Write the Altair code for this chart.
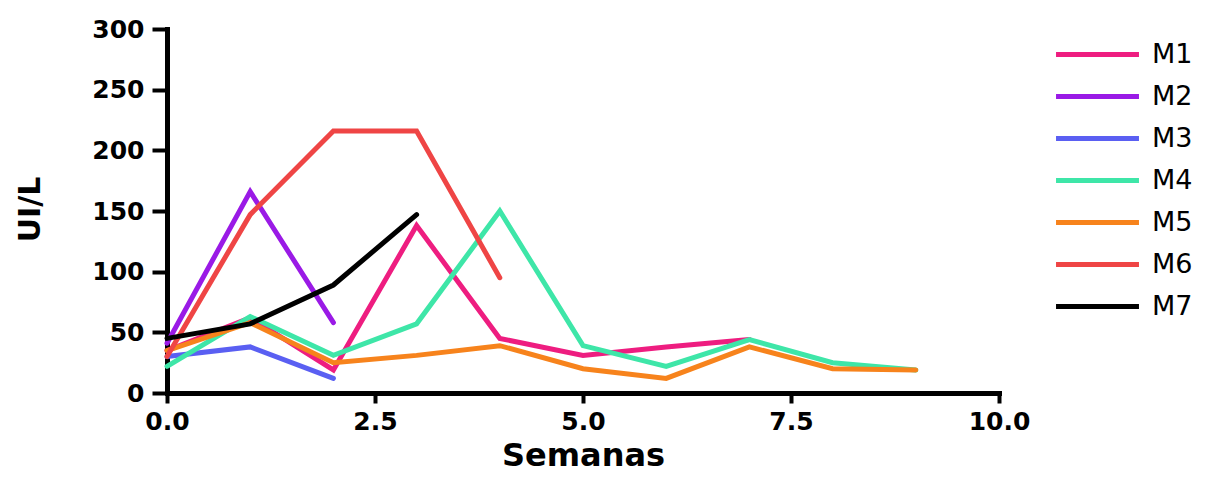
import altair as alt
import pandas as pd

series = ["M1", "M2", "M3", "M4", "M5", "M6", "M7"]
colors = ["#EE1D80", "#9A1AE6", "#5A5FF2", "#3EE6A8", "#F7831C", "#EF4545", "#000000"]

weeks_m1 = [0, 1, 2, 3, 4, 5, 6, 7]
vals_m1 = [35, 62, 19, 138, 45, 31, 38, 44]
weeks_m2 = [0, 1, 2]
vals_m2 = [41, 166, 58]
weeks_m3 = [0, 1, 2]
vals_m3 = [30, 38, 12]
weeks_m4 = [0, 1, 2, 3, 4, 5, 6, 7, 8, 9]
vals_m4 = [22, 63, 31, 57, 150, 39, 22, 44, 25, 19]
weeks_m5 = [0, 1, 2, 3, 4, 5, 6, 7, 8, 9]
vals_m5 = [35, 58, 25, 31, 39, 20, 12, 38, 20, 19]
weeks_m6 = [0, 1, 2, 3, 4]
vals_m6 = [30, 147, 216, 216, 95]
weeks_m7 = [0, 1, 2, 3]
vals_m7 = [45, 57, 89, 147]

all_weeks = [weeks_m1, weeks_m2, weeks_m3, weeks_m4, weeks_m5, weeks_m6, weeks_m7]
all_vals = [vals_m1, vals_m2, vals_m3, vals_m4, vals_m5, vals_m6, vals_m7]

rows = []
for s, ws, vs in zip(series, all_weeks, all_vals):
    for w, v in zip(ws, vs):
        rows.append({"serie": s, "semana": w, "valor": v})
df = pd.DataFrame(rows)

x_ticks = [0, 2.5, 5, 7.5, 10]
y_ticks = [0, 50, 100, 150, 200, 250, 300]

chart = alt.Chart(df).mark_line(strokeWidth=5, strokeCap="round", strokeJoin="miter").encode(
    x=alt.X("semana:Q",
            scale=alt.Scale(domain=[0, 10], nice=False, zero=True),
            axis=alt.Axis(title="Semanas", values=x_ticks, format=".1f",
                          titleX=416, titleY=72, titleBaseline="alphabetic", titleAlign="center")),
    y=alt.Y("valor:Q",
            scale=alt.Scale(domain=[0, 300], nice=False),
            axis=alt.Axis(title="UI/L", values=y_ticks, format="d",
                          titleX=-137, titleY=180, titleAngle=-90,
                          titleBaseline="middle", titleAlign="center")),
    color=alt.Color("serie:N",
                    scale=alt.Scale(domain=series, range=colors),
                    legend=alt.Legend(title=None, orient="none", legendX=889, legendY=12,
                                      symbolType="M-4,0H4", symbolSize=430, symbolStrokeWidth=5,
                                      symbolOffset=28,
                                      labelFontSize=27, labelFont="DejaVu Sans", labelColor="#000000",
                                      labelOffset=41, rowPadding=14, padding=0)),
    detail="serie:N",
).properties(
    width=832, height=364,
    autosize=alt.AutoSizeParams(type="none"),
    padding={"left": 159, "top": 21, "right": 209, "bottom": 76},
).configure_view(
    stroke=None
).configure_axis(
    grid=False,
    domainColor="#000000", domainWidth=5, domainCap="square",
    tickColor="#000000", tickWidth=4, tickSize=12,
    labelFont="DejaVu Sans", labelFontWeight="bold", labelFontSize=25, labelColor="#000000",
    titleFont="DejaVu Sans", titleFontWeight="bold", titleFontSize=32, titleColor="#000000",
).configure_axisY(
    labelPadding=8, tickSize=15, titleFontSize=30
).configure_axisX(
    labelPadding=6, tickSize=10, labelFlush=False
)

chart.save("out.html", embed_options={"renderer": "svg", "actions": False})
